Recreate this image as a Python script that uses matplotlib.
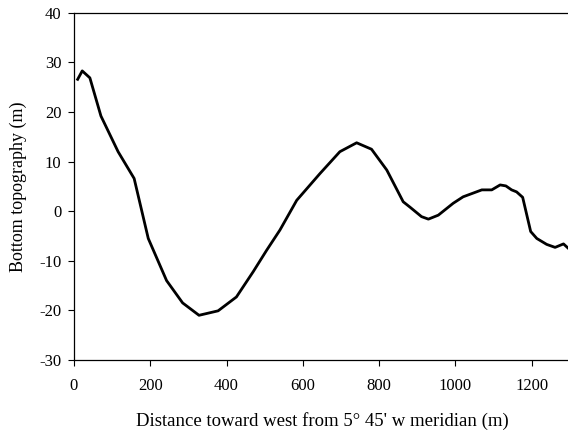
#!/usr/bin/env python

import numpy as np
import matplotlib.pyplot as plt

# ----------------------------------------------------------------------
# Bottom topography along a transect west of the 5 deg 45' W meridian
# ----------------------------------------------------------------------

distance = [10, 22, 42, 71, 116, 158, 195, 243, 285, 328, 378, 426, 470,
            505, 540, 584, 645, 697, 741, 780, 820, 863, 881, 911, 929,
            955, 994, 1020, 1069, 1095, 1117, 1132, 1147, 1160, 1176,
            1197, 1213, 1239, 1261, 1283, 1300]
depth = [26.6, 28.3, 26.9, 19.2, 12.0, 6.6, -5.5, -14.0, -18.5, -21.0,
         -20.1, -17.3, -12.2, -7.9, -3.8, 2.2, 7.6, 12.0, 13.8, 12.5, 8.3,
         1.9, 0.8, -1.1, -1.6, -0.8, 1.6, 2.9, 4.3, 4.3, 5.3, 5.1, 4.3,
         3.9, 2.8, -4.1, -5.5, -6.7, -7.3, -6.6, -7.8]

xticks = [0, 200, 400, 600, 800, 1000, 1200]
yticks = [-30, -20, -10, 0, 10, 20, 30, 40]

if __name__ == "__main__":

    plt.rcParams['font.family'] = ['Liberation Serif', 'DejaVu Serif']
    plt.rcParams['axes.unicode_minus'] = False

    fig = plt.figure(figsize=(5.68, 4.30), dpi=100)
    ax = fig.add_axes([0.130, 0.163, 0.8735, 0.807])

    ax.plot(distance, depth, color='black', linewidth=2.0)

    ax.set_xlim(0, 1300)
    ax.set_ylim(-30, 40)
    ax.set_xticks(xticks)
    ax.set_yticks(yticks)
    ax.tick_params(labelsize=12, length=4, width=0.8, direction='out')
    ax.tick_params(axis='x', pad=9)
    ax.tick_params(axis='y', pad=5)

    for side in ['left', 'bottom', 'top']:
        ax.spines[side].set_linewidth(0.9)
    ax.spines['right'].set_visible(False)

    ax.set_xlabel("Distance toward west from 5\u00b0 45' w meridian (m)",
                  fontsize=13.5, labelpad=13)
    ax.set_ylabel("Bottom topography (m)", fontsize=13, labelpad=9)

    fig.savefig('out.png', dpi=100)
    plt.close()
